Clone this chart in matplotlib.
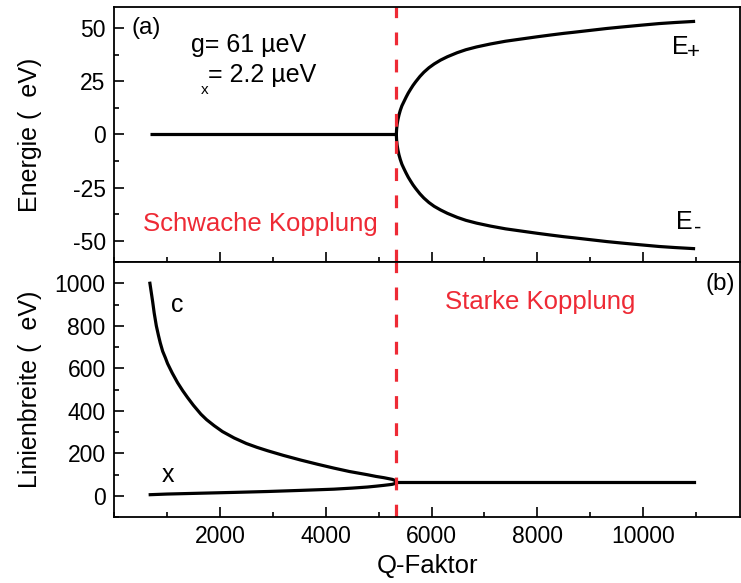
import matplotlib
matplotlib.use("Agg")
import matplotlib.pyplot as plt
from matplotlib.ticker import MultipleLocator

plt.rcParams['font.family'] = ['Liberation Sans', 'DejaVu Sans']
plt.rcParams['axes.unicode_minus'] = False

RED = "#EE2A35"

# (a) Energien
q_weak = [680, 5335]
e_weak = [0, 0]
q_split = [5335, 5340, 5350, 5365, 5385, 5410, 5440, 5477, 5520, 5560, 5604,
           5650, 5700, 5780, 5855, 5950, 6050, 6170, 6300, 6485, 6650, 6850,
           7113, 7400, 7742, 8000, 8245, 8500, 8685, 9000, 9315, 9600, 9943,
           10300, 10600, 10950]
e_plus = [0, 2.5, 4.8, 7.0, 9.2, 11.4, 13.5, 15.4, 17.6, 19.5, 21.3,
          23.1, 24.8, 27.3, 29.3, 31.4, 33.2, 35.0, 36.6, 38.5, 39.9, 41.2,
          42.6, 43.9, 45.1, 46.0, 46.8, 47.6, 48.1, 49.0, 49.9, 50.6, 51.4,
          52.2, 52.7, 53.2]
e_minus = [0, -2.6, -5.0, -7.3, -9.6, -11.8, -14.0, -16.0, -18.2, -20.1, -21.9,
           -23.7, -25.4, -27.9, -29.9, -32.0, -33.8, -35.5, -37.1, -39.0, -40.4, -41.7,
           -43.1, -44.4, -45.6, -46.5, -47.3, -48.1, -48.6, -49.5, -50.4, -51.1, -51.9,
           -52.7, -53.2, -53.7]

# (b) Linienbreiten
q_c = [679, 700, 730, 760, 800, 840, 874, 920, 970, 1013, 1100, 1202, 1300,
       1391, 1500, 1642, 1750, 1892, 2050, 2270, 2500, 2700, 2900, 3200, 3528,
       3850, 4157, 4450, 4787, 4950, 5100, 5200, 5260, 5300, 5320, 5335]
gamma_c = [1000, 965, 915, 860, 800, 755, 720, 680, 650, 622, 578, 532, 494,
           462, 426, 384, 358, 330, 302, 272, 246, 228, 212, 190, 168,
           148, 130, 114, 99, 91, 85, 80, 77, 73, 69, 63]
q_x = [685, 1000, 1642, 2300, 2900, 3500, 4157, 4500, 4787, 4950, 5100,
       5200, 5260, 5300, 5320, 5335]
gamma_x = [5, 8, 12, 16, 20, 25, 31, 36, 41, 45, 49, 52, 54, 57, 59, 63]
q_strong = [5335, 10950]
gamma_strong = [63, 63]

q_threshold = 5330
x_ticks = [2000, 4000, 6000, 8000, 10000]


def style_axis(ax):
    for sp in ax.spines.values():
        sp.set_linewidth(1.3)
    ax.tick_params(which="both", direction="in", width=1.2, labelsize=16.5,
                   top=False, right=False, pad=6)
    ax.tick_params(which="major", length=7)
    ax.tick_params(which="minor", length=3.5)
    ax.set_xlim(0, 11830)
    ax.set_xticks(x_ticks)
    ax.xaxis.set_minor_locator(MultipleLocator(1000))


fig = plt.figure(figsize=(7.41, 5.83), dpi=100)
ax1 = fig.add_axes([0.1538, 0.5506, 0.845, 0.4374])
ax2 = fig.add_axes([0.1538, 0.1132, 0.845, 0.4374])

# Plot (a): Energie
lw = 2.3
ax1.plot(q_weak, e_weak, color="black", lw=lw, solid_capstyle="butt")
ax1.plot(q_split, e_plus, color="black", lw=lw)
ax1.plot(q_split, e_minus, color="black", lw=lw)
ax1.axvline(q_threshold, color=RED, lw=2.3, linestyle=(0, (4, 4.5)))
style_axis(ax1)
ax1.set_ylim(-60, 60)
ax1.set_yticks([-50, -25, 0, 25, 50])
ax1.yaxis.set_minor_locator(MultipleLocator(12.5))
ax1.tick_params(axis="x", labelbottom=False)
ax1.set_ylabel("Energie (  eV)", fontsize=18)
ax1.yaxis.set_label_coords(-0.115, 0.5)

ax1.text(340, 50.1, "(a)", fontsize=17.5, ha="left", va="center")
ax1.text(1453, 42.1, "g= 61 µeV", fontsize=18, ha="left", va="center")
ax1.text(1642, 21.0, "x", fontsize=11, ha="left", va="center")
ax1.text(1774, 28.0, "= 2.2 µeV", fontsize=18, ha="left", va="center")
ax1.text(10547, 41.2, "E", fontsize=18, ha="left", va="center")
ax1.text(10830, 38.5, "+", fontsize=16, ha="left", va="center")
ax1.text(10622, -41.2, "E", fontsize=18, ha="left", va="center")
ax1.text(10960, -44.0, "-", fontsize=16, ha="left", va="center")
ax1.text(547, -42.1, "Schwache Kopplung", fontsize=18.5, color=RED,
         ha="left", va="center")

# Plot (b): Linienbreite
ax2.plot(q_c, gamma_c, color="black", lw=lw)
ax2.plot(q_x, gamma_x, color="black", lw=lw)
ax2.plot(q_strong, gamma_strong, color="black", lw=lw)
ax2.axvline(q_threshold, color=RED, lw=2.3, linestyle=(0, (4, 4.5)))
style_axis(ax2)
ax2.set_ylim(-100, 1100)
ax2.set_yticks([0, 200, 400, 600, 800, 1000])
ax2.yaxis.set_minor_locator(MultipleLocator(100))
ax2.set_ylabel("Linienbreite (  eV)", fontsize=18)
ax2.yaxis.set_label_coords(-0.115, 0.5)
ax2.set_xlabel("Q-Faktor", fontsize=18.5, labelpad=4)

ax2.text(6245, 910, "Starke Kopplung", fontsize=18.5, color=RED,
         ha="left", va="center")
ax2.text(11170, 995, "(b)", fontsize=17.5, ha="left", va="center")
ax2.text(1075, 896, "c", fontsize=18, ha="left", va="center")
ax2.text(906, 99, "x", fontsize=18, ha="left", va="center")

fig.savefig("out.png", dpi=100)
plt.close(fig)
